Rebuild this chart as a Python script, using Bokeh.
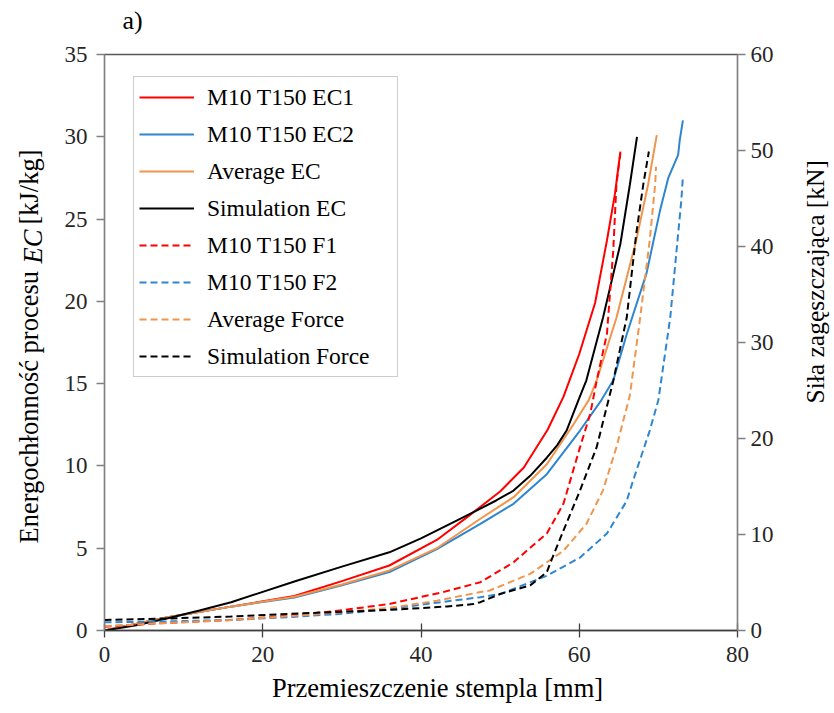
import numpy as np
from bokeh.plotting import figure
from bokeh.models import Range1d, LinearAxis, Legend, LegendItem, FixedTicker, Label
from bokeh.embed import file_html
from bokeh.resources import INLINE

# ---- data: energy consumption EC [kJ/kg] (left axis) ----
ec1_x = [0, 8, 16, 24, 30, 36, 42, 46, 50, 53, 56, 58, 60, 62, 63.5, 64.5, 65.2]
ec1_y = [0, 0.8, 1.45, 2.1, 3.0, 3.95, 5.5, 6.95, 8.45, 9.9, 12.2, 14.2, 16.8, 19.9, 23.7, 26.5, 29.1]

ec2_x = [0, 8, 16, 24, 30, 36, 42, 47.5, 51.7, 55.9, 60.1, 62.8, 64.3, 66.0, 68.5, 70.2, 71.25, 72.5, 72.7, 73.1]
ec2_y = [0, 0.8, 1.45, 2.0, 2.75, 3.55, 4.95, 6.48, 7.7, 9.5, 12.15, 14.0, 15.2, 18.0, 21.7, 25.5, 27.5, 28.9, 29.8, 31.0]

ecavg_x = [0, 8, 16, 24, 30, 36, 42, 47.5, 51.7, 55.9, 59.3, 61.2, 62.2, 64.7, 67.2, 68.7, 69.8]
ecavg_y = [0, 0.8, 1.45, 2.05, 2.8, 3.65, 5.0, 6.79, 8.1, 10.1, 12.55, 14.0, 15.2, 19.0, 23.7, 27.1, 30.1]

ecsim_x = [0, 4, 8, 12, 16, 20, 24, 30, 36, 40, 44.5, 47.5, 49.5, 51.7, 53.8, 55.9, 57.2, 58.4, 59.9, 60.9, 63.0, 65.2, 66.4, 67.3]
ecsim_y = [0, 0.32, 0.75, 1.22, 1.72, 2.35, 2.98, 3.88, 4.75, 5.6, 6.68, 7.4, 7.9, 8.5, 9.4, 10.5, 11.25, 12.15, 14.0, 15.2, 19.0, 23.5, 27.1, 30.0]

# ---- data: compaction force [kN] (right axis) ----
f1_x = [0, 8, 16, 23.5, 30, 36.1, 42.8, 47.5, 51.7, 54.2, 55.9, 58.0, 60.1, 61.4, 62.2, 63.5, 64.3, 64.7, 65.2]
f1_y = [0.4, 0.8, 1.1, 1.56, 2.1, 2.78, 4.0, 5.03, 7.1, 8.9, 10.1, 13.2, 19.1, 22.6, 26.0, 30.9, 39.6, 46.5, 49.7]

f2_x = [0, 8, 16, 23.5, 30, 36.1, 42, 47.5, 50, 55.9, 60.1, 63.5, 66.0, 66.8, 68.9, 70.0, 71.5, 72.3, 72.9, 73.1]
f2_y = [0.85, 0.95, 1.1, 1.4, 1.75, 2.26, 2.9, 3.47, 3.8, 5.7, 7.6, 10.1, 13.5, 15.6, 20.8, 24.0, 32.6, 39.6, 44.8, 47.3]

favg_x = [0, 8, 16, 23.5, 30, 36.1, 42, 47.5, 48.7, 53.8, 58.0, 60.9, 63.0, 64.7, 66.4, 67.7, 68.9, 69.6, 69.7]
favg_y = [0.45, 0.8, 1.1, 1.5, 1.9, 2.36, 3.1, 4.0, 4.17, 5.9, 8.3, 11.1, 14.6, 19.1, 24.5, 32.6, 40.6, 46.5, 48.3]

fsim_x = [0, 8, 16, 23.5, 30, 36.1, 43.3, 46.6, 47.5, 50, 53.8, 55.9, 56.3, 58.0, 60.1, 62.2, 64.3, 66.0, 67.2, 68.1, 68.8]
fsim_y = [1.1, 1.25, 1.45, 1.74, 1.95, 2.15, 2.5, 2.75, 2.95, 3.8, 4.7, 6.07, 6.95, 10.4, 14.6, 19.1, 26.0, 32.6, 41.3, 46.5, 49.9]

x_ticks = [0, 20, 40, 60, 80]
yl_ticks = [0, 5, 10, 15, 20, 25, 30, 35]
yr_ticks = [0, 10, 20, 30, 40, 50, 60]

labels = ["M10 T150 EC1", "M10 T150 EC2", "Average EC", "Simulation EC",
          "M10 T150 F1", "M10 T150 F2", "Average Force", "Simulation Force"]

x_title = "Przemieszczenie stempla [mm]"
yl_title_head = "Energochłonność procesu"
yl_title_symbol = "EC"
yl_title_unit = "[kJ/kg]"
yr_title = "Siła zagęszczająca [kN]"
panel_title = "a)"

RED = "#FF0000"
BLUE = "#2E86D1"
ORANGE = "#F0954C"
BLACK = "#000000"
FONT = "Liberation Serif"
NBSP = "\u00a0"

p = figure(width=834, height=713, x_range=Range1d(0, 80), y_range=Range1d(0, 35),
           output_backend="svg", toolbar_location=None,
           min_border_left=104, min_border_right=97, min_border_top=54, min_border_bottom=83)
p.xgrid.visible = False
p.ygrid.visible = False
p.outline_line_color = "#595959"
p.outline_line_width = 1.3
p.background_fill_color = "white"
p.border_fill_color = "white"
p.title.visible = False

p.extra_y_ranges = {"force": Range1d(0, 60)}
ax_r = LinearAxis(y_range_name="force")
p.add_layout(ax_r, "right")

p.xaxis.ticker = FixedTicker(ticks=x_ticks)
p.yaxis[0].ticker = FixedTicker(ticks=yl_ticks)
ax_r.ticker = FixedTicker(ticks=yr_ticks)

for ax in [p.xaxis[0], p.yaxis[0], ax_r]:
    ax.major_label_text_font = FONT
    ax.major_label_text_font_size = "23px"
    ax.major_label_text_color = "#262626"
    ax.minor_tick_line_color = None
    ax.axis_line_width = 1.3
    ax.major_tick_line_width = 1.3
    ax.axis_label_text_font = FONT
    ax.axis_label_text_font_size = "26.5px"
    ax.axis_label_text_font_style = "normal"
    ax.axis_label_text_color = "#000000"

p.xaxis[0].axis_line_color = "#404040"
p.xaxis[0].major_tick_line_color = "#404040"
p.xaxis[0].major_tick_in = 7
p.xaxis[0].major_tick_out = 7
p.xaxis[0].major_label_standoff = 9
p.xaxis[0].axis_label = NBSP * 5 + x_title
p.xaxis[0].axis_label_standoff = 8

for ax in [p.yaxis[0], ax_r]:
    ax.axis_line_color = "#808080"
    ax.major_tick_line_color = "#808080"
    ax.major_tick_in = 0
    ax.major_tick_out = 8
p.yaxis[0].major_label_standoff = 9
ax_r.major_label_standoff = 5

W = 2
r1 = p.line(ec1_x, ec1_y, line_color=RED, line_width=W)
r2 = p.line(ec2_x, ec2_y, line_color=BLUE, line_width=W)
r3 = p.line(ecavg_x, ecavg_y, line_color=ORANGE, line_width=W)
r4 = p.line(ecsim_x, ecsim_y, line_color=BLACK, line_width=W)
DASH = "7 4"
r5 = p.line(f1_x, f1_y, line_color=RED, line_width=W, line_dash=DASH, y_range_name="force")
r6 = p.line(f2_x, f2_y, line_color=BLUE, line_width=W, line_dash=DASH, y_range_name="force")
r7 = p.line(favg_x, favg_y, line_color=ORANGE, line_width=W, line_dash=DASH, y_range_name="force")
r8 = p.line(fsim_x, fsim_y, line_color=BLACK, line_width=W, line_dash=DASH, y_range_name="force")

legend = Legend(items=[LegendItem(label=l, renderers=[r]) for l, r in
                       zip(labels, [r1, r2, r3, r4, r5, r6, r7, r8])],
                location=(29, 253))
legend.label_text_font = FONT
legend.label_text_font_size = "23.5px"
legend.label_text_color = "#000000"
legend.glyph_width = 55
legend.glyph_height = 30
legend.label_height = 30
legend.label_width = 185
legend.spacing = 7
legend.padding = 5
legend.margin = 0
legend.label_standoff = 13
legend.border_line_color = "#999999"
legend.border_line_width = 1.2
legend.background_fill_alpha = 1
p.add_layout(legend)

half_pi = np.pi / 2
common = dict(x_units="screen", y_units="screen", text_font=FONT,
              text_baseline="alphabetic", text_align="left", text_color="#000000")

# panel letter, in the space above the frame
p.add_layout(Label(x=18, y=34, text=panel_title, text_font_size="26px", **common), "above")

# left title: normal text with a gap, and the italic symbol set into that gap
p.add_layout(Label(x=-3, y=87, angle=half_pi, text_font_size="26.5px",
                   text=yl_title_head + NBSP * 7 + yl_title_unit, **common), "left")
p.add_layout(Label(x=31, y=367, angle=half_pi, text_font_size="26.5px",
                   text=yl_title_symbol, text_font_style="italic", **common), "left")

# right title, reading bottom-to-top
p.add_layout(Label(x=39, y=227, angle=half_pi, text_font_size="25.5px",
                   text=yr_title, **common), "right")

open("out.html", "w").write(file_html(p, INLINE))
